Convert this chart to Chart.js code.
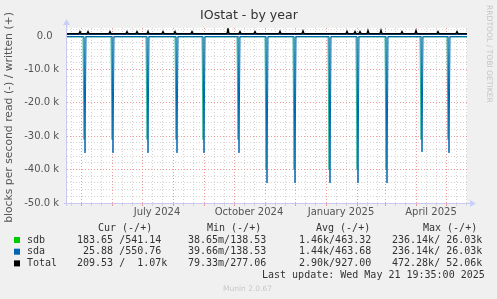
<!DOCTYPE html>
<html>
<head>
<meta charset="utf-8">
<script src="https://cdn.jsdelivr.net/npm/chart.js@4.4.0/dist/chart.umd.min.js"></script>
<style>
body{margin:0;background:#f0f0f0;}
</style>
</head>
<body>
<canvas id="myChart" width="497" height="299"></canvas>
<script>
// x values are days counted from 2024-04-17, the left edge of the year graph
const startDate=Date.UTC(2024,3,17);
const endDay=400;
const dayOf=(y,m,d)=>(Date.UTC(y,m,d)-startDate)/86400000;

// read (-) spikes, every 4 weeks
const sdaSpikeDays=[18,46,81,110,137,172,200,228,263,291,320,355,382];
const sdaSpikeVals=[-35000,-35000,-35000,-35000,-35000,-35000,-44000,-44000,-44000,-44000,-44000,-34700,-35000];
const sdbSpikeDays=[17,45,80,109,136,171,199,227,262,290,319,354,381];
const sdbSpikeVals=[-31000,-31000,-31000,-31000,-31000,-31000,-40000,-40000,-40000,-40000,-40000,-31000,-31000];
const readBase=-150;
const writeBase=450;

// Total (written) with its small bumps
const totalBase=700;
const totalBumpDays=[13,21,43,60,70,81,96,108,125,161,173,188,213,236,280,288,293,301,314,335,349,371,390];
const totalBumpVals=[1300,1300,1300,1300,1300,1400,1300,1300,1300,2100,1300,1300,1400,1500,1400,1300,1300,1600,1700,1300,1600,1300,1300];

// y grid: minor every 2k, labelled every 10k
const yGridVals=[-50000,-48000,-46000,-44000,-42000,-40000,-38000,-36000,-34000,-32000,-30000,-28000,-26000,-24000,-22000,-20000,-18000,-16000,-14000,-12000,-10000,-8000,-6000,-4000,-2000,0,2000];

// x labels (placed mid-month like rrdtool)
const monthLabels=['July 2024','October 2024','January 2025','April 2025'];
const labelDates=[[2024,6,16],[2024,9,16],[2025,0,16],[2025,3,16]];

// legend
const legendNames=['sdb','sda','Total'];
const legendColors=['#00cc00','#0066b3','#000000'];
const curVals=['183.65 /541.14',' 25.88 /550.76','209.53 /  1.07k'];
const minVals=['38.65m/138.53','39.66m/138.53','79.33m/277.06'];
const avgVals=['1.46k/463.32','1.44k/463.68','2.90k/927.00'];
const maxVals=['236.14k/ 26.03k','236.14k/ 26.03k','472.28k/ 52.06k'];

function spikeLine(days,vals,base){
  const pts=[{x:0,y:base}];
  days.forEach((d,i)=>{pts.push({x:d-1,y:base},{x:d,y:vals[i]},{x:d+1,y:base});});
  pts.push({x:endDay,y:base});
  return pts;
}
function flatLine(base){return [{x:0,y:base},{x:endDay,y:base}];}

// grid days: 1st, 11th, 21st of every month, month start is major
const gridTicks=[];
const majorDays=new Set();
for(let k=0;k<14;k++){
  const y=2024+Math.floor((3+k)/12), m=(3+k)%12;
  [1,11,21].forEach(d=>{
    const v=dayOf(y,m,d);
    if(v>0&&v<endDay){gridTicks.push(v);if(d===1)majorDays.add(v);}
  });
}
const labelTicks=labelDates.map(t=>dayOf(t[0],t[1],t[2]));

const redGrid='rgba(230,120,120,0.75)';
const greyGrid='#d4d4d4';

const munin={
  id:'munin',
  beforeDraw(chart){
    const c=chart.ctx,a=chart.chartArea;
    c.save();
    c.fillStyle='#f0f0f0';c.fillRect(0,0,chart.width,chart.height);
    c.fillStyle='#ffffff';c.fillRect(a.left,a.top,a.right-a.left,a.bottom-a.top);
    c.restore();
  },
  afterDraw(chart){
    const c=chart.ctx,a=chart.chartArea;
    c.save();
    // axes with arrows
    c.strokeStyle='#c8c8f0';c.lineWidth=1;
    c.beginPath();
    c.moveTo(a.left-0.5,a.bottom+3);c.lineTo(a.left-0.5,a.top-4);
    c.moveTo(a.left-3,a.bottom+0.5);c.lineTo(a.right+4,a.bottom+0.5);
    c.stroke();
    c.fillStyle='#c8d0f8';
    c.beginPath();c.moveTo(a.left-4,a.top-3);c.lineTo(a.left+3,a.top-3);c.lineTo(a.left-0.5,a.top-9);c.fill();
    c.beginPath();c.moveTo(a.right+3,a.bottom-3);c.lineTo(a.right+3,a.bottom+4);c.lineTo(a.right+9,a.bottom+0.5);c.fill();

    // title
    c.fillStyle='#333';c.font='12.6px "DejaVu Sans"';c.textAlign='center';c.textBaseline='middle';
    c.fillText('IOstat - by year',249,16);

    // y title
    c.save();c.translate(9,117.5);c.rotate(-Math.PI/2);
    c.fillStyle='#555';c.font='10.8px "DejaVu Sans"';
    c.fillText('blocks per second read (-) / written (+)',0,0);
    c.restore();

    // rrdtool credit
    c.save();c.translate(489,5);c.rotate(Math.PI/2);
    c.fillStyle='#c4c4c4';c.font='7.6px "DejaVu Sans"';c.textAlign='left';
    c.fillText('RRDTOOL / TOBI OETIKER',0,0);
    c.restore();

    // legend
    c.font='10px "DejaVu Sans Mono"';c.textAlign='left';c.fillStyle='#333';
    c.fillText('Cur (-/+)',98,228);
    c.fillText('Min (-/+)',207,228);
    c.fillText('Avg (-/+)',316,228);
    c.fillText('Max (-/+)',423,228);
    legendNames.forEach((n,i)=>{
      const y=240+i*11.7;
      c.fillStyle=legendColors[i];c.fillRect(14,y-3,6,6);
      c.fillStyle='#333';
      c.fillText(n,27,y);
      c.fillText(curVals[i],77,y);
      c.fillText(minVals[i],188,y);
      c.fillText(avgVals[i],299,y);
      c.fillText(maxVals[i],392,y);
    });
    c.fillText('Last update: Wed May 21 19:35:00 2025',262,275.5);
    c.fillStyle='#c8c8c8';c.font='7.5px "DejaVu Sans"';
    c.fillText('Munin 2.0.67',223,289);
    c.restore();
  }
};

const ctx=document.getElementById('myChart');

new Chart(ctx,{
  type:'line',
  data:{
    datasets:[
      {label:'Total',data:(()=>{const p=[{x:0,y:totalBase}];totalBumpDays.forEach((d,i)=>p.push({x:d-1,y:totalBase},{x:d,y:totalBumpVals[i]},{x:d+1,y:totalBase}));p.push({x:endDay,y:totalBase});return p;})(),
       borderColor:'#000000',borderWidth:1.5,order:0},
      {label:'sda write',data:flatLine(writeBase),borderColor:'#0066b3',borderWidth:1,order:1},
      {label:'sda read',data:spikeLine(sdaSpikeDays,sdaSpikeVals,readBase),borderColor:'#0066b3',borderWidth:1,order:1},
      {label:'sdb write',data:flatLine(writeBase+80),borderColor:'#00cc00',borderWidth:1,order:2},
      {label:'sdb read',data:spikeLine(sdbSpikeDays,sdbSpikeVals,readBase-150),borderColor:'#2fb89a',borderWidth:1,order:2}
    ]
  },
  options:{
    responsive:false,
    animation:false,
    parsing:false,
    elements:{point:{radius:0},line:{tension:0}},
    layout:{padding:{left:7,top:28,right:30,bottom:78}},
    plugins:{legend:{display:false},tooltip:{enabled:false},title:{display:false}},
    scales:{
      x:{type:'linear',min:0,max:endDay,position:'bottom',weight:0,
        afterBuildTicks:s=>{s.ticks=gridTicks.map(v=>({value:v}));},
        afterFit:s=>{s.height=3;},
        ticks:{display:false,autoSkip:false},
        grid:{color:c=>majorDays.has(c.tick.value)?redGrid:greyGrid,drawTicks:true,tickLength:3},
        border:{display:false,dash:[1,2]}},
      x2:{type:'linear',min:0,max:endDay,position:'bottom',weight:1,display:true,
        afterBuildTicks:s=>{s.ticks=labelTicks.map(v=>({value:v}));},
        afterFit:s=>{s.height=15;},
        ticks:{autoSkip:false,maxRotation:0,padding:0,color:'#555',font:{family:'DejaVu Sans',size:10},
          callback:(v,i)=>monthLabels[i]},
        grid:{display:false,drawTicks:false},
        border:{display:false}},
      y:{type:'linear',min:-50000,max:2400,
        afterBuildTicks:s=>{s.ticks=yGridVals.map(v=>({value:v}));},
        afterFit:s=>{s.width=60;},
        ticks:{autoSkip:false,padding:8,color:'#555',font:{family:'DejaVu Sans',size:10},
          callback:v=>v%10000===0?(v===0?'0.0  ':(v/1000).toFixed(1)+' k'):''},
        grid:{color:c=>c.tick.value%10000===0?redGrid:greyGrid,drawTicks:false},
        border:{display:false,dash:[1,2]}}
    }
  },
  plugins:[munin]
});
</script>
</body>
</html>
